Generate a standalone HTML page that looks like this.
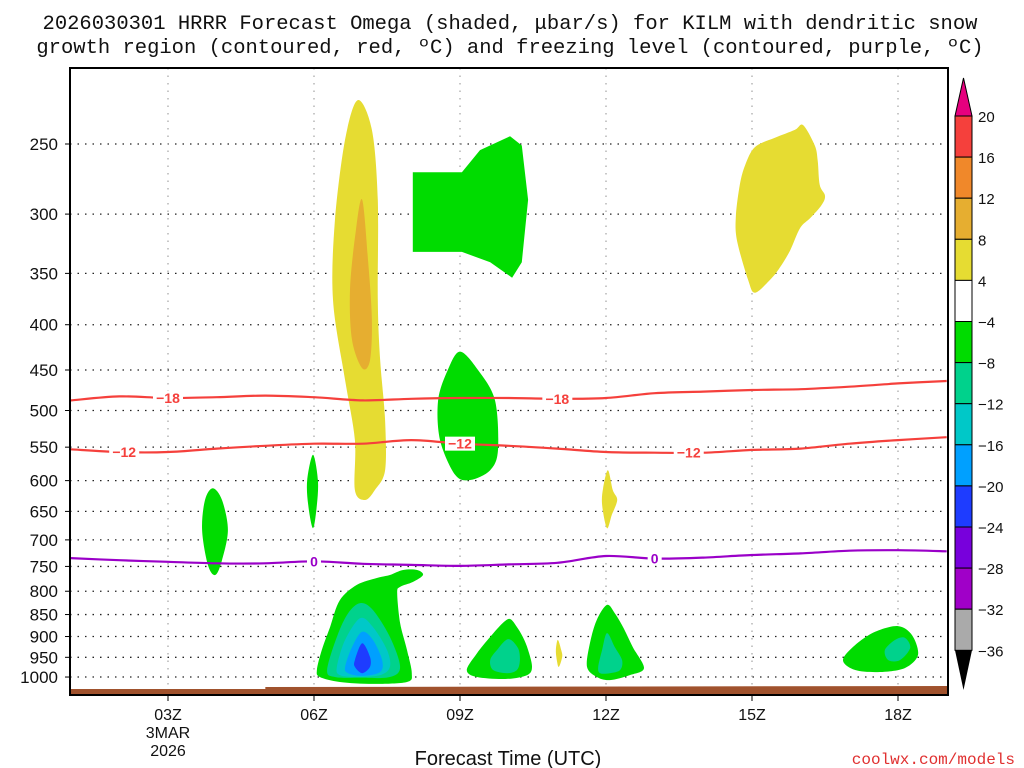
<!DOCTYPE html>
<html><head><meta charset="utf-8"><style>
html,body{margin:0;padding:0;background:#fff;}
svg{display:block;font-family:"Liberation Sans",sans-serif;}
</style></head><body>
<svg id="chart" width="1024" height="768" viewBox="0 0 1024 768" xmlns="http://www.w3.org/2000/svg">
<g font-family="Liberation Mono, monospace" font-size="20.5" fill="#111" text-anchor="middle">
<text x="510" y="29">2026030301 HRRR Forecast Omega (shaded, μbar/s) for KILM with dendritic snow</text>
<text x="510" y="53">growth region (contoured, red, ºC) and freezing level (contoured, purple, ºC)</text>
</g>
<g id="grid"></g>
<g id="fills"></g>
<g id="lines"></g>
<g id="axes"></g>
<g id="cbar"></g>
<text x="508" y="765" font-size="20" text-anchor="middle" fill="#111">Forecast Time (UTC)</text>
<text x="1015" y="764" font-size="16" text-anchor="end" fill="#e03030" font-family="Liberation Mono, monospace">coolwx.com/models</text>
</svg>
<script>
const pressureLevels=[250,300,350,400,450,500,550,600,650,700,750,800,850,900,950,1000];
const hourTicks=[3,6,9,12,15,18];
const hourTickLabels=["03Z","06Z","09Z","12Z","15Z","18Z"];
const lineHours=[1,2,3,4,5,6,7,8,9,10,11,12,13,14,15,16,17,18,19];
const dgzMinus18=[487,482,484,483,481,483,487,485,484,484,485,484,478,476,474,473,470,466,463];
const dgzMinus12=[553,557,557,552,548,545,545,540,545,548,552,557,558,558,554,552,545,540,536];
const freezing0=[734,738,741,744,744,740,745,747,749,746,743,730,735,733,728,725,720,719,721];
const cbarValues=["20","16","12","8","4","-4","-8","-12","-16","-20","-24","-28","-32","-36"];
const cbarColors=["#f5403c","#f0882a","#e6ae30","#e6dc32","#ffffff","#00dc00","#00d28c","#00c8c8","#00a0ff","#1e3cff","#7800dc","#a000c8","#aaaaaa"];
const yellowColumn=[[6.90,223],[7.19,241],[7.31,289],[7.31,375],[7.36,439],[7.46,513],[7.46,584],[7.25,615],[7.05,631],[6.84,615],[6.84,540],[6.64,462],[6.39,375],[6.43,305],[6.64,247]];
const orangeColumn=[[6.99,289],[7.11,338],[7.19,395],[7.15,439],[6.99,448],[6.78,416],[6.74,365],[6.86,313]];
const greenUpper=[[8.03,269],[9.04,269],[9.41,254],[10.03,245],[10.27,251],[10.40,289],[10.27,340],[10.07,354],[9.62,340],[9.04,331],[8.03,331]];
const greenMid=[[9.0,429],[9.37,450],[9.72,487],[9.78,554],[9.62,584],[9.21,599],[8.90,591],[8.59,540],[8.55,487],[8.75,450]];
const yellowRight=[[16.05,238],[16.29,251],[16.35,261],[16.39,278],[16.5,286],[16.43,293],[16.20,303],[15.99,311],[15.78,330],[15.57,345],[15.37,356],[15.06,368],[14.92,356],[14.69,321],[14.67,301],[14.75,278],[14.86,264],[15.06,252],[15.47,246],[15.88,241]];
const green04=[[3.92,612],[4.11,631],[4.23,682],[4.11,738],[3.97,767],[3.82,747],[3.70,682],[3.76,631]];
const green06=[[5.98,561],[6.08,599],[6.06,639],[5.98,679],[5.88,639],[5.86,599]];
const yellow12=[[12.04,584],[12.14,615],[12.23,631],[12.12,656],[12.02,679],[11.92,639],[11.94,612]];
const greenBig=[[6.06,982],[6.16,932],[6.33,878],[6.53,819],[6.88,787],[7.29,773],[7.56,767],[7.83,757],[8.12,757],[8.24,767],[8.03,781],[7.77,791],[7.71,804],[7.77,869],[7.91,932],[8.01,990],[7.91,1013],[7.21,1018],[6.53,1013],[6.12,1000]];
const tealBig=[[6.27,982],[6.47,901],[6.70,847],[6.95,825],[7.21,840],[7.56,901],[7.77,974],[7.56,1000],[6.95,1002],[6.43,1000]];
const cyanBig=[[6.47,974],[6.64,908],[6.95,858],[7.21,878],[7.50,932],[7.56,974],[7.36,995],[6.88,1000],[6.53,995]];
const blueBig=[[6.64,974],[6.78,925],[6.99,889],[7.21,908],[7.40,957],[7.36,987],[7.01,997],[6.70,990]];
const darkBlueBig=[[6.84,957],[6.99,916],[7.15,949],[7.15,974],[6.99,990],[6.84,974]];
const green10=[[9.14,982],[9.35,940],[9.62,901],[9.88,869],[10.03,860],[10.17,878],[10.29,901],[10.40,932],[10.48,974],[10.38,995],[9.97,1005],[9.35,1000]];
const teal10=[[9.62,957],[9.76,932],[9.99,906],[10.19,927],[10.23,957],[10.17,982],[9.97,990],[9.68,982]];
const yellow11=[[11.01,908],[11.08,932],[11.10,949],[11.03,974],[10.99,957],[10.97,932]];
const green12=[[11.61,974],[11.67,916],[11.81,862],[12.02,829],[12.18,847],[12.35,878],[12.55,925],[12.78,977],[12.49,995],[12.08,1008],[11.81,1000]];
const teal12=[[11.84,974],[11.92,932],[12.02,892],[12.18,925],[12.33,957],[12.29,982],[12.08,990],[11.88,990]];
const green18=[[16.87,957],[17.12,920],[17.53,889],[18.0,876],[18.29,897],[18.41,944],[18.14,977],[17.63,987],[17.12,982]];
const teal18=[[17.73,932],[17.94,908],[18.14,903],[18.25,927],[18.04,957],[17.80,957]];

const NS="http://www.w3.org/2000/svg";
const X0=70,X1=948,Y0=68,Y1=695;
function xh(h){return 168+(h-3)*48.667;}
function yp(p){return 144+384.5*Math.log(p/250);}
function mk(tag,attrs,parent){const e=document.createElementNS(NS,tag);for(const k in attrs)e.setAttribute(k,attrs[k]);parent.appendChild(e);return e;}
function smooth(P,closed){
 const n=P.length;let d='M'+P[0][0].toFixed(1)+','+P[0][1].toFixed(1);
 const segs=closed?n:n-1;
 for(let i=0;i<segs;i++){
  const p0=P[closed?(i-1+n)%n:Math.max(i-1,0)],p1=P[i],p2=P[(i+1)%n],p3=P[closed?(i+2)%n:Math.min(i+2,n-1)];
  const t=0.16;
  const c1=[p1[0]+(p2[0]-p0[0])*t,p1[1]+(p2[1]-p0[1])*t];
  const c2=[p2[0]-(p3[0]-p1[0])*t,p2[1]-(p3[1]-p1[1])*t];
  d+='C'+c1[0].toFixed(1)+','+c1[1].toFixed(1)+' '+c2[0].toFixed(1)+','+c2[1].toFixed(1)+' '+p2[0].toFixed(1)+','+p2[1].toFixed(1);
 }
 return d+(closed?'Z':'');
}
const grid=document.getElementById('grid'),fills=document.getElementById('fills'),lines=document.getElementById('lines'),axes=document.getElementById('axes'),cbar=document.getElementById('cbar');

pressureLevels.forEach(p=>{const l=mk('line',{x1:X0,x2:X1,y1:yp(p),y2:yp(p),stroke:'#222','stroke-width':1.3,'stroke-dasharray':'1.5 6'},grid);

});
hourTicks.forEach(h=>{const l=mk('line',{x1:xh(h),x2:xh(h),y1:Y0,y2:Y1,stroke:'#aaa','stroke-width':1.3,'stroke-dasharray':'1.5 6'},grid);

});

const regions=[[yellowColumn,'#e6dc32','yellow-column'],[orangeColumn,'#e6ae30','orange-core'],[greenUpper,'#00dc00','green-upper'],[greenMid,'#00dc00','green-mid'],[yellowRight,'#e6dc32','yellow-right'],[green04,'#00dc00','green-04z'],[green06,'#00dc00','green-06z'],[yellow12,'#e6dc32','yellow-12z'],[greenBig,'#00dc00','green-07z-low'],[tealBig,'#00d28c','teal-07z'],[cyanBig,'#00c8c8','cyan-07z'],[blueBig,'#00a0ff','blue-07z'],[darkBlueBig,'#1e3cff','darkblue-07z'],[green10,'#00dc00','green-10z'],[teal10,'#00d28c','teal-10z'],[yellow11,'#e6dc32','yellow-11z'],[green12,'#00dc00','green-12z'],[teal12,'#00d28c','teal-12z'],[green18,'#00dc00','green-18z'],[teal18,'#00d28c','teal-18z']];
regions.forEach(r=>{const P=r[0].map(q=>[xh(q[0]),yp(q[1])]);
const e=mk('path',{d:r[2]==='green-upper'?('M'+P.map(q=>q[0].toFixed(1)+','+q[1].toFixed(1)).join('L')+'Z'):smooth(P,true),fill:r[1]},fills);

});

const g=mk('polygon',{points:`${X0},689 ${xh(5)},689 ${xh(5)},687 ${X1},686 ${X1},695 ${X0},695`,fill:'#a0522d'},fills);



function drawLine(vals,color,name,labels,txt){
 const P=lineHours.map((h,i)=>[xh(h),yp(vals[i])]);
 const e=mk('path',{d:smooth(P,false),fill:'none',stroke:color,'stroke-width':2.2},lines);
 
 
 labels.forEach(h=>{const i=Math.round(h)-1;const y=yp(vals[i]);
  const w=txt.length*8+6;
  mk('rect',{x:xh(h)-w/2,y:y-7,width:w,height:14,fill:'#fff'},lines);
  const t=mk('text',{x:xh(h),y:y+5,'text-anchor':'middle','font-size':14,'font-weight':'bold',fill:color},lines);
  t.textContent=txt.replace('-','\u2212');
  
  });
}
drawLine(dgzMinus18,'#f5403c','contour-minus18',[3,11],'-18');
drawLine(dgzMinus12,'#f5403c','contour-minus12',[2.1,9,13.7],'-12');
drawLine(freezing0,'#9a00c8','freezing-level',[6,13],'0');

const fr=mk('rect',{x:X0,y:Y0,width:X1-X0,height:Y1-Y0,fill:'none',stroke:'#000','stroke-width':2},axes);


pressureLevels.forEach(p=>{mk('line',{x1:X0-5,x2:X0,y1:yp(p),y2:yp(p),stroke:'#000'},axes);
 const t=mk('text',{x:58,y:yp(p)+6,'text-anchor':'end','font-size':17,fill:'#111'},axes);
 t.textContent=p;
 
 });
hourTicks.forEach((h,i)=>{mk('line',{x1:xh(h),x2:xh(h),y1:Y1,y2:Y1+6,stroke:'#000'},axes);
 const t=mk('text',{x:xh(h),y:720,'text-anchor':'middle','font-size':16,fill:'#111'},axes);
 t.textContent=hourTickLabels[i];
 
 });
['3MAR','2026'].forEach((s,i)=>{const t=mk('text',{x:xh(3),y:738+i*18,'text-anchor':'middle','font-size':16,fill:'#111'},axes);
 t.textContent=s;
 
 });

const CX=955,CW=17,CT=116,CH=41.1;
cbarColors.forEach((c,i)=>{const r=mk('rect',{x:CX,y:CT+i*CH,width:CW,height:CH,fill:c,stroke:'#000','stroke-width':1},cbar);
 
 });
const tu=mk('polygon',{points:`${CX},${CT} ${CX+CW},${CT} ${CX+CW/2},78`,fill:'#e6007e',stroke:'#000'},cbar);


const bot=CT+cbarColors.length*CH;
const tb=mk('polygon',{points:`${CX},${bot} ${CX+CW},${bot} ${CX+CW/2},690`,fill:'#000'},cbar);


cbarValues.forEach((v,i)=>{const t=mk('text',{x:978,y:CT+i*CH+6,'font-size':15,fill:'#111'},cbar);
 t.textContent=v.replace('-','\u2212');
 
 });
</script>
</body></html>
